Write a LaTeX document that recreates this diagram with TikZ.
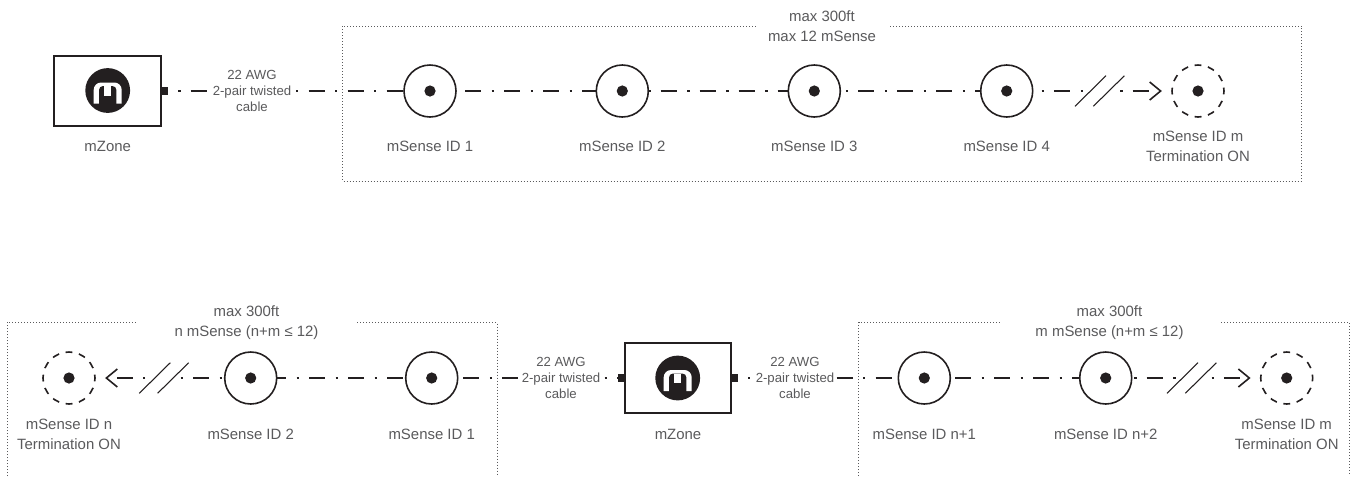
\documentclass[tikz,border=0pt]{standalone}
\usepackage{fontspec}
\setmainfont{Liberation Sans}
\usetikzlibrary{arrows.meta}
\definecolor{inkline}{HTML}{231F20}
\definecolor{inktext}{HTML}{5A5A5C}
\tikzset{
    sensor/.style={circle,draw=inkline,line width=1.2pt,minimum size=39pt,inner sep=0pt,outer sep=0pt},
    termsensor/.style={sensor,dash pattern=on 5.2pt off 5pt,dash phase=2.6pt},
    zonebox/.style={rectangle,draw=inkline,line width=1.5pt,minimum width=80pt,minimum height=52.5pt,outer sep=0pt},
    port/.style={rectangle,fill=inkline,minimum width=5pt,minimum height=5.5pt,inner sep=0pt,outer sep=0pt},
    cabletext/.style={font=\fontsize{9.9}{12}\selectfont,text=inktext,align=center,inner sep=1.5pt,fill=white},
    nametext/.style={font=\fontsize{11.2}{15}\selectfont,text=inktext,align=center},
    limittext/.style={nametext,fill=white,inner sep=0pt},
    cable/.style={draw=inkline,line width=1.2pt,dash pattern=on 12pt off 8pt on 1.6pt off 7.65pt,dash phase=#1},
    tipcable/.style={cable=#1,-{Straight Barb[length=8.2pt,width=13.5pt,line width=1.2pt]},shorten >=7.6pt},
    cut/.style={draw=inkline,line width=0.8pt},
    area/.style={draw=inktext,line width=0.75pt,dash pattern=on 0.75pt off 1.5pt}
}
\newcommand{\sensordot}[1]{\fill[inkline] (#1) circle (4.2pt);}
\newcommand{\cutmark}[2]{
    \draw[cut] (#1-24.7,#2+15.3) -- (#1+6.3,#2-15.3);
    \draw[cut] (#1-6.4,#2+15.3) -- (#1+24.7,#2-15.3);
}
\newcommand{\zonelogo}[1]{
    \begin{scope}[shift={(#1)}]
        \fill[inkline] (0,0) circle (16.8pt);
        \fill[white] (-14,13) [rounded corners=5.5pt] -- (-14,-8) -- (14,-8) [sharp corners] -- (14,13) -- cycle;
        \fill[inkline] (-8.7,14) [rounded corners=3pt] -- (-8.7,-4.5) -- (8.7,-4.5) [sharp corners] -- (8.7,14) -- cycle;
        \fill[white] (-3.7,-4.5) rectangle (3.7,5);
    \end{scope}
}
\begin{document}
\begin{tikzpicture}[x=0.75pt,y=-0.75pt]
    \useasboundingbox (0,0) rectangle (1352,476);

    % upper row
    \draw[area] (342.7,26) rectangle (1301.7,181);
    \node[limittext,minimum width=99pt,minimum height=27pt] (limitA) at (822,26.5) {max 300ft\\max 12 mSense};
    \node[zonebox] (zoneA) at (107.7,91) {};
    \zonelogo{107.7,90.5}
    \node[port,anchor=west] (portA) at (zoneA.east) {};
    \node[nametext] (zoneAtext) at (107.7,146) {mZone};
    \node[cabletext] (cableA) at (252,91) {22 AWG\\2-pair twisted\\cable};
    \node[sensor] (sOne) at (430,91) {};
    \node[sensor] (sTwo) at (622.3,91) {};
    \node[sensor] (sThree) at (814.3,91) {};
    \node[sensor] (sFour) at (1006.7,91) {};
    \node[termsensor] (sEnd) at (1198,91) {};
    \sensordot{sOne.center}
    \sensordot{sTwo.center}
    \sensordot{sThree.center}
    \sensordot{sFour.center}
    \sensordot{sEnd.center}
    \node[nametext] (sOnetext) at (430,146) {mSense ID 1};
    \node[nametext] (sTwotext) at (622.3,146) {mSense ID 2};
    \node[nametext] (sThreetext) at (814.3,146) {mSense ID 3};
    \node[nametext] (sFourtext) at (1006.7,146) {mSense ID 4};
    \node[nametext] (sEndtext) at (1198,146) {mSense ID m\\Termination ON};
    \coordinate (cutAin) at (1084,91);
    \coordinate (cutAout) at (1118,91);
    \draw[cable=12pt] (portA.east) -- (cableA.west);
    \draw[cable=18pt] (cableA.east) -- (sOne.west);
    \draw[cable=22.5pt] (sOne.east) -- (sTwo.west);
    \draw[cable=19.95pt] (sTwo.east) -- (sThree.west);
    \draw[cable=15.75pt] (sThree.east) -- (sFour.west);
    \draw[cable=13.3pt] (sFour.east) -- (cutAin);
    \draw[tipcable=18.2pt] (cutAout) -- (sEnd.west);
    \cutmark{1099.7}{91}

    % lower row, left side
    \draw[area] (7,476) -- (7,322.3) -- (497,322.3) -- (497,476);
    \draw[area] (858.7,476) -- (858.7,322.3) -- (1349.3,322.3) -- (1349.3,476);
    \node[limittext,minimum width=164pt,minimum height=27pt] (limitL) at (246.5,323) {max 300ft\\n mSense (n+m ≤ 12)};
    \node[limittext,minimum width=164pt,minimum height=27pt] (limitR) at (1109.5,323) {max 300ft\\m mSense (n+m ≤ 12)};
    \node[zonebox] (zoneB) at (678,378) {};
    \zonelogo{677.7,378}
    \node[port,anchor=east] (portL) at (zoneB.west) {};
    \node[port,anchor=west] (portR) at (zoneB.east) {};
    \node[nametext] (zoneBtext) at (678,434) {mZone};
    \node[cabletext] (cableL) at (561,378) {22 AWG\\2-pair twisted\\cable};
    \node[cabletext] (cableR) at (795,378) {22 AWG\\2-pair twisted\\cable};
    \node[termsensor] (nEnd) at (69,378) {};
    \node[sensor] (nTwo) at (250.7,378) {};
    \node[sensor] (nOne) at (431.7,378) {};
    \sensordot{nEnd.center}
    \sensordot{nTwo.center}
    \sensordot{nOne.center}
    \node[nametext] (nEndtext) at (69,434) {mSense ID n\\Termination ON};
    \node[nametext] (nTwotext) at (250.7,434) {mSense ID 2};
    \node[nametext] (nOnetext) at (431.7,434) {mSense ID 1};
    \coordinate (cutLin) at (178,378);
    \coordinate (cutLout) at (146.5,378);
    \draw[cable=25.05pt] (nOne.east) -- (cableL.west);
    \draw[cable=18.5pt] (cableL.east) -- (portL.west);
    \draw[cable=5pt] (nTwo.east) -- (nOne.west);
    \draw[cable=18pt] (cutLin) -- (nTwo.west);
    \draw[tipcable=18.9pt] (cutLout) -- (nEnd.east);
    \cutmark{164}{378}

    % lower row, right side
    \node[sensor] (mOne) at (924.3,378) {};
    \node[sensor] (mTwo) at (1105.7,378) {};
    \node[termsensor] (mEnd) at (1286.7,378) {};
    \sensordot{mOne.center}
    \sensordot{mTwo.center}
    \sensordot{mEnd.center}
    \node[nametext] (mOnetext) at (924.3,434) {mSense ID n+1};
    \node[nametext] (mTwotext) at (1105.7,434) {mSense ID n+2};
    \node[nametext] (mEndtext) at (1286.7,434) {mSense ID m\\Termination ON};
    \coordinate (cutRin) at (1177,378);
    \coordinate (cutRout) at (1209.5,378);
    \draw[cable=12.3pt] (portR.east) -- (cableR.west);
    \draw[cable=0pt] (cableR.east) -- (mOne.west);
    \draw[cable=25.7pt] (mOne.east) -- (mTwo.west);
    \draw[cable=18pt] (mTwo.east) -- (cutRin);
    \draw[tipcable=18.4pt] (cutRout) -- (mEnd.west);
    \cutmark{1191.7}{378}
\end{tikzpicture}
\end{document}
